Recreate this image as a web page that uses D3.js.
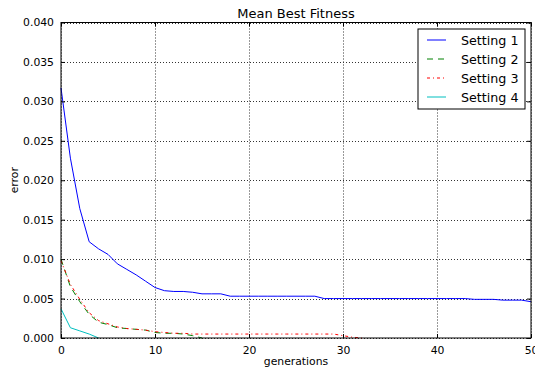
<!DOCTYPE html>
<html>
<head>
<meta charset="utf-8">
<script src="https://cdn.jsdelivr.net/npm/d3@7"></script>
<style>
  body { margin: 0; background: #fff; }
  svg { display: block; font-family: "DejaVu Sans", sans-serif; }
</style>
</head>
<body>
<div id="chart"></div>
<script>
let width = 535,
    height = 371,
    margin = ({ top: 22.5, right: 4, bottom: 33, left: 61 });

// values per generation (index = generation)
const setting1 = [0.0317, 0.0228, 0.0164, 0.0122, 0.0113, 0.0106, 0.0094, 0.0087, 0.0080, 0.0072,
  0.0064, 0.0060, 0.0059, 0.0059, 0.0058, 0.0056, 0.0056, 0.0056, 0.0053, 0.0053,
  0.0053, 0.0053, 0.0053, 0.0053, 0.0053, 0.0053, 0.0053, 0.0053, 0.0050, 0.0050,
  0.0050, 0.0050, 0.0050, 0.0050, 0.0050, 0.0050, 0.0050, 0.0050, 0.0050, 0.0050,
  0.0050, 0.0050, 0.0050, 0.0050, 0.0049, 0.0049, 0.0049, 0.0048, 0.0048, 0.0048, 0.0046];
const setting2 = [0.0100, 0.0065, 0.0046, 0.0030, 0.0020, 0.0017, 0.0013, 0.0012, 0.0011, 0.0010,
  0.0007, 0.0006, 0.0006, 0.0005, 0.0003, 0.0000];
const setting3 = [0.0098, 0.0068, 0.0049, 0.0032, 0.0022, 0.0018, 0.0014, 0.0012, 0.0011, 0.0010,
  0.0008, 0.0007, 0.0006, 0.0006, 0.0005, 0.0005, 0.0005, 0.0005, 0.0005, 0.0005,
  0.0005, 0.0005, 0.0005, 0.0005, 0.0005, 0.0005, 0.0005, 0.0005, 0.0005, 0.0005,
  0.0003, 0.0001, 0.0000];
const setting4 = [0.0037, 0.0013, 0.0009, 0.0005, 0.0000];

const labels = ["Setting 1", "Setting 2", "Setting 3", "Setting 4"];
const xTicks = [0, 10, 20, 30, 40, 50];
const yTicks = [0.000, 0.005, 0.010, 0.015, 0.020, 0.025, 0.030, 0.035, 0.040];

const series = [
  { name: labels[0], values: setting1, color: "#0000ff", dash: null },
  { name: labels[1], values: setting2, color: "#008000", dash: "6,5" },
  { name: labels[2], values: setting3, color: "#ff0000", dash: "3,3,1,3" },
  { name: labels[3], values: setting4, color: "#00bfbf", dash: null }
];

const svg = d3.select("#chart")
  .append("svg")
  .attr("width", width)
  .attr("height", height);

let x = d3.scaleLinear()
  .domain([0, 50])
  .range([margin.left, width - margin.right]);

let y = d3.scaleLinear()
  .domain([0, 0.04])
  .range([height - margin.bottom, margin.top]);

// dotted grid
svg.append("g")
  .selectAll("line")
  .data(xTicks)
  .join("line")
  .attr("x1", d => Math.round(x(d)) + 0.5).attr("x2", d => Math.round(x(d)) + 0.5)
  .attr("y1", y(0.04)).attr("y2", y(0))
  .attr("stroke", "#333").attr("stroke-width", 1).attr("stroke-dasharray", "1,2");

svg.append("g")
  .selectAll("line")
  .data(yTicks)
  .join("line")
  .attr("x1", x(0)).attr("x2", x(50))
  .attr("y1", d => Math.round(y(d)) + 0.5).attr("y2", d => Math.round(y(d)) + 0.5)
  .attr("stroke", "#333").attr("stroke-width", 1).attr("stroke-dasharray", "1,2");

// lines
const line = d3.line()
  .x((d, i) => x(i))
  .y(d => y(d));

svg.append("g")
  .selectAll("path")
  .data(series)
  .join("path")
  .attr("d", d => line(d.values))
  .attr("fill", "none")
  .attr("stroke", d => d.color)
  .attr("stroke-width", 1)
  .attr("stroke-dasharray", d => d.dash);

// axes, ticks inward on all sides
svg.append("g")
  .attr("transform", `translate(0,${y(0)})`)
  .call(d3.axisBottom(x).tickValues(xTicks).tickSize(-4).tickPadding(8).tickFormat(d3.format("d")))
  .call(g => g.select(".domain").remove());

svg.append("g")
  .attr("transform", `translate(0,${y(0.04)})`)
  .call(d3.axisTop(x).tickValues(xTicks).tickSize(-4).tickFormat(""))
  .call(g => g.select(".domain").remove());

svg.append("g")
  .attr("transform", `translate(${x(0)},0)`)
  .call(d3.axisLeft(y).tickValues(yTicks).tickSize(-4).tickPadding(7).tickFormat(d3.format(".3f")))
  .call(g => g.select(".domain").remove());

svg.append("g")
  .attr("transform", `translate(${x(50)},0)`)
  .call(d3.axisRight(y).tickValues(yTicks).tickSize(-4).tickFormat(""))
  .call(g => g.select(".domain").remove());

svg.selectAll(".tick text")
  .attr("font-family", "DejaVu Sans, sans-serif")
  .attr("font-size", 10.8)
  .attr("fill", "#000");
svg.selectAll(".tick line").attr("stroke", "#000");

// frame
svg.append("rect")
  .attr("x", x(0)).attr("y", y(0.04))
  .attr("width", x(50) - x(0)).attr("height", y(0) - y(0.04))
  .attr("fill", "none").attr("stroke", "#000").attr("stroke-width", 1);

// title and axis labels
svg.append("text")
  .attr("x", (x(0) + x(50)) / 2).attr("y", 18)
  .attr("text-anchor", "middle").attr("font-size", 13)
  .text("Mean Best Fitness");

svg.append("text")
  .attr("x", (x(0) + x(50)) / 2).attr("y", 365)
  .attr("text-anchor", "middle").attr("font-size", 10.8)
  .text("generations");

svg.append("text")
  .attr("transform", `translate(18,${(y(0) + y(0.04)) / 2}) rotate(-90)`)
  .attr("text-anchor", "middle").attr("font-size", 10.8)
  .text("error");

// legend
const legend = svg.append("g").attr("transform", "translate(418,29)");
legend.append("rect")
  .attr("width", 107).attr("height", 80)
  .attr("fill", "#fff").attr("stroke", "#000").attr("stroke-width", 1);

const item = legend.selectAll("g")
  .data(series)
  .join("g")
  .attr("transform", (d, i) => `translate(0,${11 + i * 19})`);

item.append("line")
  .attr("x1", 9).attr("x2", 28)
  .attr("stroke", d => d.color)
  .attr("stroke-width", 1)
  .attr("stroke-dasharray", d => d.dash);

item.append("text")
  .attr("x", 43).attr("y", 4.5)
  .attr("font-size", 12.7)
  .text(d => d.name);
</script>
</body>
</html>
